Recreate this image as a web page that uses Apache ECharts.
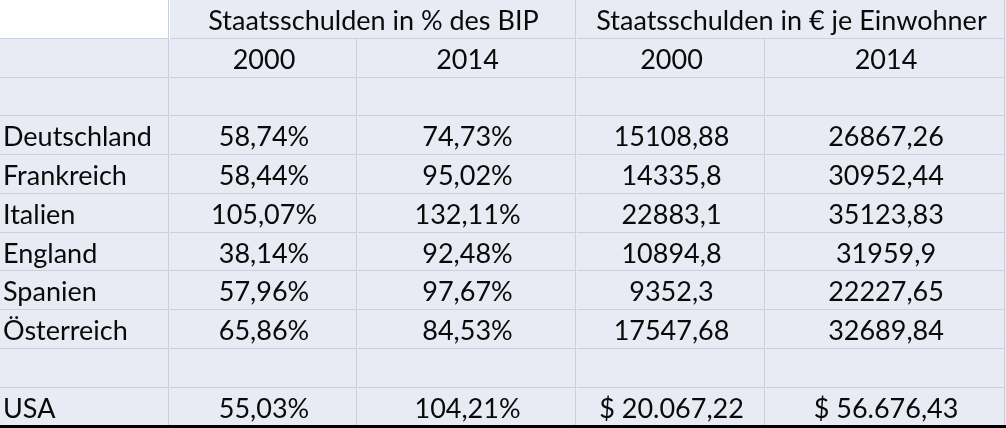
<!doctype html>
<html>
<head>
<meta charset="UTF-8">
<title>Staatsschulden</title>
<script src="https://cdn.jsdelivr.net/npm/echarts@6/dist/echarts.min.js"></script>
<style>
  html, body { margin: 0; padding: 0; background: #fff; }
  #main { width: 1006px; height: 428px; }
</style>
</head>
<body>
<div id="main"></div>
<script>
// Daten
var groupHeaders = ['Staatsschulden in % des BIP', 'Staatsschulden in € je Einwohner'];
var yearHeaders = ['2000', '2014', '2000', '2014'];
var countries = ['Deutschland', 'Frankreich', 'Italien', 'England', 'Spanien', 'Österreich'];
var bip2000 = [58.74, 58.44, 105.07, 38.14, 57.96, 65.86];
var bip2014 = [74.73, 95.02, 132.11, 92.48, 97.67, 84.53];
var eur2000 = [15108.88, 14335.8, 22883.1, 10894.8, 9352.3, 17547.68];
var eur2014 = [26867.26, 30952.44, 35123.83, 31959.9, 22227.65, 32689.84];
var usaName = 'USA';
var usaBip = [55.03, 104.21];
var usaUsd = [20067.22, 56676.43];

// Layout: Spaltenbreiten (px)
var colWidths = [170, 188, 219, 189, 240];
var colEdges = [0];
colWidths.forEach(function (w, i) { colEdges.push(colEdges[i] + w); });

var bgColor = '#e8ebf4';
var lineColor = '#cbd0dc';
var textColor = '#0a0a0a';
var fontFamily = 'Lato, "Open Sans", sans-serif';

function pct(v) { return v.toFixed(2).replace('.', ',') + '%'; }
function general(v) { return String(v).replace('.', ','); }
function usd(v) {
  var parts = v.toFixed(2).split('.');
  var intPart = parts[0].replace(/\B(?=(\d{3})+(?!\d))/g, '.');
  return '$ ' + intPart + ',' + parts[1];
}

// Zeilen
var rows = ['head1', 'head2', 'blank1'].concat(countries, ['blank2', usaName]);

// Zellen: [startCol, endCol, row], text, align, fill
var cells = [];
function addCell(c0, c1, r, text, opts) {
  opts = opts || {};
  cells.push({
    value: [c0, c1, r],
    text: text,
    align: opts.align || 'center',
    fill: opts.fill || bgColor
  });
}
addCell(0, 0, 0, '', { fill: '#fff' });
addCell(1, 2, 0, groupHeaders[0]);
addCell(3, 4, 0, groupHeaders[1]);
addCell(0, 0, 1, '');
yearHeaders.forEach(function (y, i) { addCell(i + 1, i + 1, 1, y); });
for (var c = 0; c < 5; c++) addCell(c, c, 2, '');
countries.forEach(function (name, i) {
  var r = 3 + i;
  addCell(0, 0, r, name, { align: 'left' });
  addCell(1, 1, r, pct(bip2000[i]));
  addCell(2, 2, r, pct(bip2014[i]));
  addCell(3, 3, r, general(eur2000[i]));
  addCell(4, 4, r, general(eur2014[i]));
});
for (var c2 = 0; c2 < 5; c2++) addCell(c2, c2, 9, '');
addCell(0, 0, 10, usaName, { align: 'left' });
addCell(1, 1, 10, pct(usaBip[0]));
addCell(2, 2, 10, pct(usaBip[1]));
addCell(3, 3, 10, usd(usaUsd[0]));
addCell(4, 4, 10, usd(usaUsd[1]));

var chart = echarts.init(document.getElementById('main'));

chart.setOption({
  animation: false,
  backgroundColor: '#fff',
  grid: { left: 0, right: 0, top: 0, bottom: 1.5 },
  xAxis: {
    type: 'value',
    min: 0,
    max: colEdges[colEdges.length - 1],
    axisLabel: { show: false },
    axisTick: { show: false },
    splitLine: { show: false },
    axisLine: { show: true, lineStyle: { color: '#000', width: 3 } },
    z: 10
  },
  yAxis: {
    type: 'category',
    data: rows,
    inverse: true,
    show: false
  },
  series: [{
    type: 'custom',
    data: cells,
    renderItem: function (params, api) {
      var cell = cells[params.dataIndex];
      var r = api.value(2);
      var bandH = api.size([0, 1])[1];
      var left = api.coord([colEdges[api.value(0)], r]);
      var right = api.coord([colEdges[api.value(1) + 1], r]);
      var x0 = Math.round(left[0]);
      var x1 = Math.round(right[0]);
      var y0 = Math.round(left[1] - bandH / 2);
      var y1 = Math.round(left[1] + bandH / 2);
      var tx = cell.align === 'left' ? x0 + 3 : (x0 + x1) / 2;
      var lineStyle = { stroke: lineColor, lineWidth: 1 };
      // nur rechte und untere Zellkante, wie Excel-Gitternetz
      return {
        type: 'group',
        children: [{
          type: 'rect',
          shape: { x: x0, y: y0, width: x1 - x0, height: y1 - y0 },
          style: { fill: cell.fill }
        }, {
          type: 'line',
          shape: { x1: x1 - 1.5, y1: y0, x2: x1 - 1.5, y2: y1 },
          style: lineStyle
        }, {
          type: 'line',
          shape: { x1: x0, y1: y1 - 0.5, x2: x1 - 2, y2: y1 - 0.5 },
          style: lineStyle
        }, {
          type: 'text',
          style: {
            text: cell.text,
            x: tx,
            y: (y0 + y1) / 2 + 2,
            align: cell.align,
            verticalAlign: 'middle',
            fill: textColor,
            font: '27px ' + fontFamily
          }
        }]
      };
    }
  }]
});
</script>
</body>
</html>
